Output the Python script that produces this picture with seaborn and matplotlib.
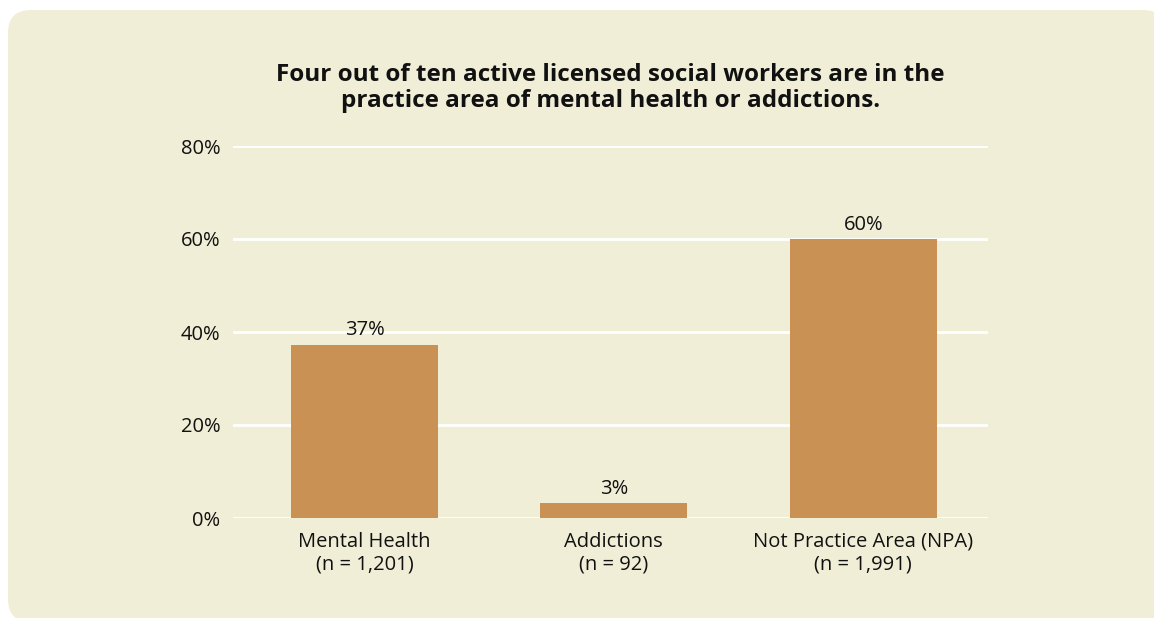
import matplotlib
matplotlib.use("Agg")
import matplotlib.pyplot as plt
from matplotlib.patches import FancyBboxPatch
import seaborn as sns
import pandas as pd

categories = ["Mental Health\n(n = 1,201)", "Addictions\n(n = 92)", "Not Practice Area (NPA)\n(n = 1,991)"]
values = [37.3, 3.2, 60.0]
value_labels = ["37%", "3%", "60%"]
yticks = [0, 20, 40, 60, 80]
ytick_labels = ["0%", "20%", "40%", "60%", "80%"]
title = "Four out of ten active licensed social workers are in the\npractice area of mental health or addictions."

BG = "#f0eed6"
BAR = "#c99254"

sns.set_theme(style="white")
plt.rcParams['font.family'] = ['Open Sans', 'DejaVu Sans']

W, H = 1154, 618
fig = plt.figure(figsize=(W / 100, H / 100), dpi=100)
fig.patch.set_facecolor("white")

# card background in a pixel-space axes
bg = fig.add_axes([0, 0, 1, 1])
bg.set_xlim(0, W)
bg.set_ylim(H, 0)
bg.axis("off")
bg.set_zorder(-1)
bg.add_patch(FancyBboxPatch((8, 10), 1166 - 8, 622 - 10,
                            boxstyle="round,pad=0,rounding_size=23",
                            facecolor=BG, edgecolor="none"))

left, right = 233 / W, 988 / W
bottom, top = 1 - 518 / H, 1 - 146 / H
ax = fig.add_axes([left, bottom, right - left, top - bottom])
ax.set_zorder(1)
ax.set_facecolor("none")

df = pd.DataFrame({"cat": categories, "val": values})
sns.barplot(data=df, x="cat", y="val", color=BAR, saturation=1, width=0.59,
            linewidth=0, edgecolor="none", ax=ax, zorder=3)

ax.set_ylim(0, 80)
ax.set_xlim(-0.527, 2.5)
ax.set_yticks(yticks)
ax.set_yticklabels(ytick_labels)
for y in yticks:
    ax.axhline(y, color="white", lw=2, zorder=1)
for s in ax.spines.values():
    s.set_visible(False)
ax.set_xlabel("")
ax.set_ylabel("")
ax.tick_params(axis="y", length=0, pad=9, labelsize=14.5, labelcolor="#111111")
ax.tick_params(axis="x", length=0, pad=10, labelsize=14.5, labelcolor="#111111")

for i, (v, lab) in enumerate(zip(values, value_labels)):
    ax.annotate(lab, (i, v), xytext=(0, 3), textcoords="offset points",
                ha="center", va="bottom", fontsize=14.5, color="#111111", zorder=4)

fig.text((233 + 988) / 2 / W, 1 - 88 / H, title, ha="center", va="center",
         fontsize=17.5, fontweight="bold", color="#111111", linespacing=1.08, zorder=5)

fig.savefig("out.png", dpi=100, facecolor="white")
